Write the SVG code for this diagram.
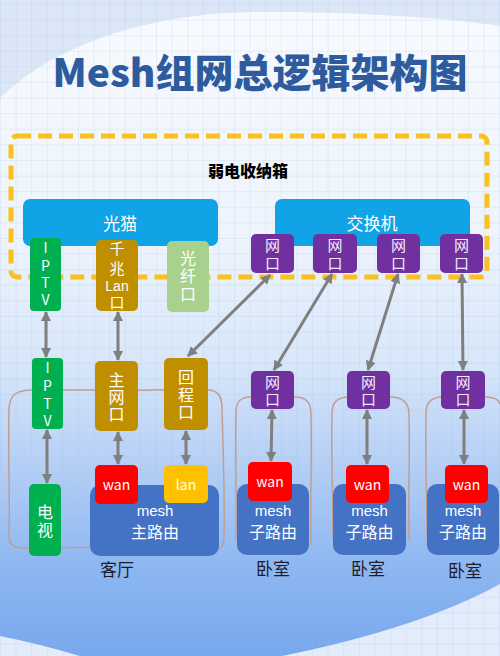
<svg xmlns="http://www.w3.org/2000/svg" width="500" height="656" viewBox="0 0 500 656">
<defs>
<linearGradient id="bg" x1="0" y1="0" x2="0" y2="1" gradientUnits="objectBoundingBox">
<stop offset="0" stop-color="#f7fafe"/>
<stop offset="0.35" stop-color="#eef4fc"/>
<stop offset="0.55" stop-color="#d7e6f9"/>
<stop offset="0.72" stop-color="#b1cdf5"/>
<stop offset="0.86" stop-color="#8db7f2"/>
<stop offset="1" stop-color="#77a7ee"/>
</linearGradient>
<pattern id="grid" width="15.6" height="15.6" patternUnits="userSpaceOnUse" x="0" y="4">
<path d="M15.6 0 L0 0 0 15.6" fill="none" stroke="#9db7de" stroke-width="0.8" opacity="0.45"/>
</pattern>
<marker id="ah" viewBox="0 0 10 10" refX="9" refY="5" markerWidth="10" markerHeight="10" markerUnits="userSpaceOnUse" orient="auto-start-reverse">
<path d="M0,0 L10,5 L0,10 z" fill="#7f7f7f"/>
</marker>
<style>
.t{font-family:"Noto Sans CJK SC","Noto Sans",sans-serif;fill:#ffffff;text-anchor:middle}
.lat{font-family:"Liberation Sans",Arial,sans-serif}
.v{writing-mode:vertical-rl;text-orientation:upright}
.s15{font-size:15px}
.s16{font-size:16px}
.s14{font-size:14px}
.lbl{font-family:"Noto Sans CJK SC","Noto Sans",sans-serif;fill:#1c1c2c;font-size:17px;text-anchor:middle}
.bar{fill:#10a3e6}
.grn{fill:#00b050}
.gold{fill:#bf8f00}
.pur{fill:#7030a0}
.red{fill:#ff0000}
.yel{fill:#ffc000}
.mesh{fill:#4472c4}
.pt{fill:#f3e8fa}
.room{fill:none;stroke:#c09e92;stroke-width:1.5}
.conn line{stroke:#7f7f7f;stroke-width:3;marker-start:url(#ah);marker-end:url(#ah)}
</style>
</defs>

<g id="background">
<rect x="0" y="0" width="500" height="656" fill="#dbe7f7"/>
<path d="M0,98 C60,40 160,12 260,12 C380,12 460,20 500,26 L500,656 L0,656 Z" fill="url(#bg)"/>
<path d="M0,636 Q40,644 80,656 L0,656 Z" fill="#e2ecfa"/>
<path d="M282,656 Q420,628 500,584 L500,656 Z" fill="#e2ecfa"/>
<rect x="0" y="0" width="500" height="656" fill="url(#grid)"/>
</g>

<g id="title">
<text x="260" y="87" font-family="'Noto Sans CJK SC','Noto Sans',sans-serif" font-size="39" font-weight="900" fill="#2e5b9e" text-anchor="middle">Mesh组网总逻辑架构图</text>
</g>

<g id="cabinet">
<rect x="11" y="136" width="476" height="141" rx="6" fill="none" stroke="#f9c01e" stroke-width="5" stroke-dasharray="14 7"/>
<text x="248" y="177" font-family="'Noto Sans CJK SC',sans-serif" font-size="16" font-weight="900" fill="#000" text-anchor="middle">弱电收纳箱</text>
</g>

<g id="rooms">
<path class="room" d="M32,390 C18,390 10,394 9,408 C8,450 10,500 9,536 C9,546 16,549 29,548"/>
<path class="room" d="M63,390 L95,390"/>
<path class="room" d="M138,390 C148,391 154,389 164,390"/>
<path class="room" d="M208,390 C218,390 222,396 222,408 C223,450 225,500 224,536 C224,545 222,548 219,548"/>
<path class="room" d="M61,548 C72,547 80,548 90,547"/>
<path class="room" d="M251,397 C240,397 236,402 236,412 C235,460 237,500 236,540"/>
<path class="room" d="M294,397 C306,397 311,402 311,414 C312,460 310,500 311,545"/>
<path class="room" d="M347,397 C336,398 332,403 332,414 C331,460 333,500 333,540"/>
<path class="room" d="M390,397 C403,397 409,403 409,414 C410,460 408,500 409,540"/>
<path class="room" d="M441,397 C430,398 426,403 426,414 C425,460 427,500 427,540"/>
<path class="room" d="M485,397 C495,397 499,400 500,404"/>
</g>

<g id="guangmao">
<rect class="bar" x="23" y="199" width="195" height="47" rx="7"/>
<text class="t" x="120" y="230" font-size="17">光猫</text>
</g>
<g id="switch">
<rect class="bar" x="275" y="199" width="195" height="47" rx="7"/>
<text class="t" x="372" y="230" font-size="17">交换机</text>
</g>

<g id="iptv-top">
<rect class="grn" x="30" y="238" width="31" height="73" rx="4"/>
<text class="t s14 v" x="45.5" y="275.6" letter-spacing="3.3">IPTV</text>
</g>
<g id="lan-port">
<rect class="gold" x="96" y="240" width="42" height="71" rx="5"/>
<text class="t s15 v" x="117" y="248">千</text>
<text class="t s15 v" x="117" y="268">兆</text>
<text class="t lat s14" x="117" y="291">Lan</text>
<text class="t s15 v" x="117" y="302">口</text>
</g>
<g id="fiber-port">
<rect x="167" y="241" width="42" height="71" rx="5" fill="#a9d18e"/>
<text class="t s16 v" x="188" y="277" letter-spacing="2">光纤口</text>
</g>

<g id="sw-port1">
<rect class="pur" x="251" y="234" width="43" height="39" rx="5"/>
<text class="t s15 pt v" x="272.5" y="255.5" letter-spacing="3">网口</text>
</g>
<g id="sw-port2">
<rect class="pur" x="313" y="234" width="44" height="39" rx="5"/>
<text class="t s15 pt v" x="335" y="255.5" letter-spacing="3">网口</text>
</g>
<g id="sw-port3">
<rect class="pur" x="377" y="234" width="43" height="39" rx="5"/>
<text class="t s15 pt v" x="398.5" y="255.5" letter-spacing="3">网口</text>
</g>
<g id="sw-port4">
<rect class="pur" x="440" y="234" width="43" height="39" rx="5"/>
<text class="t s15 pt v" x="461.5" y="255.5" letter-spacing="3">网口</text>
</g>

<g id="iptv-mid">
<rect class="grn" x="32" y="358" width="31" height="71" rx="4"/>
<text class="t s14 v" x="47.5" y="396.4" letter-spacing="3.7">IPTV</text>
</g>
<g id="main-port">
<rect class="gold" x="95" y="361" width="43" height="70" rx="5"/>
<text class="t s16 v" x="116.5" y="397.5" letter-spacing="1">主网口</text>
</g>
<g id="backhaul-port">
<rect class="gold" x="164" y="358" width="44" height="72" rx="5"/>
<text class="t s16 v" x="186" y="395.3" letter-spacing="1.5">回程口</text>
</g>

<g id="room-port1">
<rect class="pur" x="251" y="371" width="43" height="38" rx="5"/>
<text class="t s15 pt v" x="272.5" y="391.5" letter-spacing="2">网口</text>
</g>
<g id="room-port2">
<rect class="pur" x="347" y="371" width="43" height="38" rx="5"/>
<text class="t s15 pt v" x="368.5" y="391.5" letter-spacing="2">网口</text>
</g>
<g id="room-port3">
<rect class="pur" x="441" y="371" width="44" height="38" rx="5"/>
<text class="t s15 pt v" x="463" y="391.5" letter-spacing="2">网口</text>
</g>

<g id="tv">
<rect class="grn" x="29" y="484" width="32" height="72" rx="5"/>
<text class="t s16 v" x="45" y="522" letter-spacing="2">电视</text>
</g>
<g id="main-router">
<rect class="mesh" x="90" y="485" width="129" height="71" rx="10"/>
<text class="t lat s15" x="155" y="516">mesh</text>
<text class="t s16" x="155" y="538">主路由</text>
<rect class="red" x="95" y="465" width="43" height="39" rx="5"/>
<text class="t s14" x="116.5" y="490">wan</text>
<rect class="yel" x="164" y="465" width="44" height="38" rx="5"/>
<text class="t s14" x="186" y="490">lan</text>
<text class="lbl" x="117" y="576">客厅</text>
</g>
<g id="sub-router1">
<rect class="mesh" x="237" y="484" width="72" height="71" rx="10"/>
<text class="t lat s15" x="273" y="516">mesh</text>
<text class="t s16" x="273" y="538">子路由</text>
<rect class="red" x="248" y="462" width="44" height="39" rx="5"/>
<text class="t s14" x="270" y="487">wan</text>
<text class="lbl" x="273" y="575">卧室</text>
</g>
<g id="sub-router2">
<rect class="mesh" x="333" y="484" width="73" height="71" rx="10"/>
<text class="t lat s15" x="369.5" y="516">mesh</text>
<text class="t s16" x="369.5" y="538">子路由</text>
<rect class="red" x="346" y="465" width="43" height="38" rx="5"/>
<text class="t s14" x="367.5" y="490">wan</text>
<text class="lbl" x="368" y="575">卧室</text>
</g>
<g id="sub-router3">
<rect class="mesh" x="427" y="484" width="72" height="71" rx="10"/>
<text class="t lat s15" x="463" y="516">mesh</text>
<text class="t s16" x="463" y="538">子路由</text>
<rect class="red" x="445" y="465" width="43" height="38" rx="5"/>
<text class="t s14" x="466.5" y="490">wan</text>
<text class="lbl" x="465" y="577">卧室</text>
</g>

<g id="connectors" class="conn">
<line x1="46" y1="312" x2="46" y2="357"/>
<line x1="118" y1="312" x2="118" y2="360"/>
<line x1="47" y1="430" x2="47" y2="483"/>
<line x1="118" y1="432" x2="118" y2="464"/>
<line x1="186" y1="431" x2="186" y2="464"/>
<line x1="270" y1="275" x2="188" y2="356"/>
<line x1="332" y1="274" x2="274" y2="370"/>
<line x1="398" y1="274" x2="368" y2="370"/>
<line x1="462" y1="274" x2="463" y2="370"/>
<line x1="272" y1="410" x2="271" y2="461"/>
<line x1="367" y1="410" x2="367" y2="464"/>
<line x1="464" y1="410" x2="464" y2="464"/>
</g>
</svg>
